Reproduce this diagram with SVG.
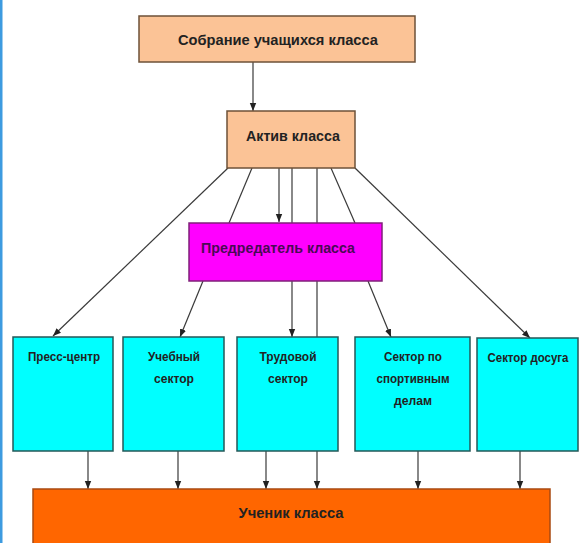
<svg xmlns="http://www.w3.org/2000/svg" width="579" height="543" viewBox="0 0 579 543">
<defs>
<style>
.peach{fill:#FBC396;stroke:#6e5238;stroke-width:1.5}
.mag{fill:#FF00FF;stroke:#80207a;stroke-width:1.5}
.cyan{fill:#00FFFF;stroke:#245858;stroke-width:1.5}
.orange{fill:#FF6600;stroke:#a94a10;stroke-width:1.5}
.t{font-family:"Liberation Sans","Arial",sans-serif;font-weight:bold;fill:#222;text-anchor:middle}
.big{font-size:15px}
.sm{font-size:12px}
.c{stroke:#3a3a3a;stroke-width:1.2;fill:none}
.a{marker-end:url(#ah)}
</style>
<marker id="ah" markerUnits="userSpaceOnUse" markerWidth="8" markerHeight="8" viewBox="0 0 8 8" refX="8" refY="4" orient="auto">
<path d="M0,0.8 L8,4 L0,7.2 Z" fill="#222"/>
</marker>
</defs>
<rect width="579" height="543" fill="#ffffff"/>
<rect x="0" y="0" width="2.5" height="543" fill="#3d9be0"/>
<g id="connectors">
<line class="c a" x1="253" y1="62" x2="253" y2="111"/>
<line class="c a" x1="228" y1="168" x2="53" y2="336"/>
<line class="c" x1="252" y1="168" x2="229" y2="223"/>
<line class="c a" x1="279" y1="168" x2="279" y2="222"/>
<line class="c a" x1="292" y1="168" x2="292" y2="337"/>
<line class="c" x1="317" y1="168" x2="317" y2="337"/>
<line class="c" x1="331" y1="168" x2="355" y2="223"/>
<line class="c a" x1="355" y1="168" x2="530" y2="338"/>
<line class="c a" x1="203" y1="281" x2="180" y2="337"/>
<line class="c a" x1="368" y1="281" x2="391" y2="337"/>
<line class="c a" x1="88" y1="451" x2="88" y2="489"/>
<line class="c a" x1="178" y1="451" x2="178" y2="489"/>
<line class="c a" x1="266" y1="451" x2="266" y2="489"/>
<line class="c a" x1="317" y1="451" x2="317" y2="489"/>
<line class="c a" x1="418" y1="451" x2="418" y2="489"/>
<line class="c a" x1="520" y1="451" x2="520" y2="489"/>
</g>
<g id="sobranie">
<rect class="peach" x="139" y="16" width="276" height="46"/>
<text class="t big" x="278" y="45" textLength="200" lengthAdjust="spacingAndGlyphs">Собрание учащихся класса</text>
</g>
<g id="aktiv">
<rect class="peach" x="227" y="111" width="128" height="57"/>
<text class="t big" x="293" y="141" textLength="94" lengthAdjust="spacingAndGlyphs">Актив класса</text>
</g>
<g id="predsedatel">
<rect class="mag" x="189" y="223" width="193" height="58"/>
<text class="t big" x="278" y="253" textLength="154" lengthAdjust="spacingAndGlyphs" style="fill:#4a0a55">Предредатель класса</text>
</g>
<g id="press">
<rect class="cyan" x="13" y="337" width="100" height="114"/>
<text class="t sm" x="64" y="361" textLength="72" lengthAdjust="spacingAndGlyphs">Пресс-центр</text>
</g>
<g id="uchebny">
<rect class="cyan" x="123" y="337" width="101" height="114"/>
<text class="t sm" x="174" y="361" textLength="52" lengthAdjust="spacingAndGlyphs">Учебный</text>
<text class="t sm" x="174" y="383" textLength="40" lengthAdjust="spacingAndGlyphs">сектор</text>
</g>
<g id="trudovoy">
<rect class="cyan" x="237" y="337" width="101" height="114"/>
<text class="t sm" x="288" y="361" textLength="57" lengthAdjust="spacingAndGlyphs">Трудовой</text>
<text class="t sm" x="288" y="383" textLength="40" lengthAdjust="spacingAndGlyphs">сектор</text>
</g>
<g id="sport">
<rect class="cyan" x="355" y="337" width="115" height="114"/>
<text class="t sm" x="413" y="361" textLength="58" lengthAdjust="spacingAndGlyphs">Сектор по</text>
<text class="t sm" x="413" y="383" textLength="73" lengthAdjust="spacingAndGlyphs">спортивным</text>
<text class="t sm" x="413" y="405" textLength="38" lengthAdjust="spacingAndGlyphs">делам</text>
</g>
<g id="dosug">
<rect class="cyan" x="477" y="338" width="101" height="113"/>
<text class="t sm" x="528" y="362" textLength="81" lengthAdjust="spacingAndGlyphs">Сектор досуга</text>
</g>
<g id="uchenik">
<rect class="orange" x="33" y="489" width="517" height="60"/>
<text class="t big" x="291" y="518" textLength="105" lengthAdjust="spacingAndGlyphs">Ученик класса</text>
</g>
</svg>
